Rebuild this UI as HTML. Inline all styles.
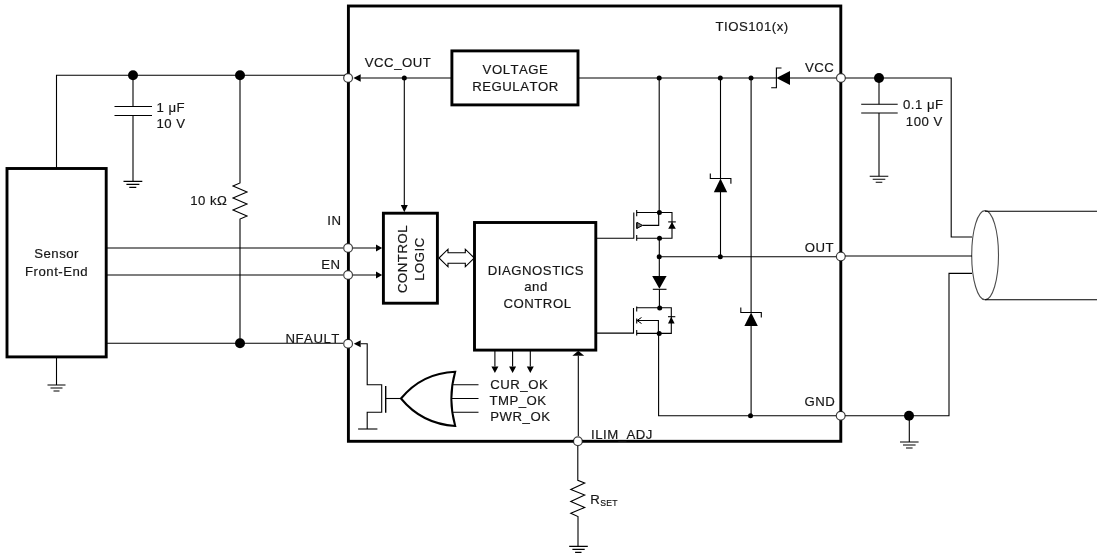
<!DOCTYPE html>
<html><head><meta charset="utf-8">
<style>
html,body{margin:0;padding:0;background:#fff;width:1100px;height:559px;overflow:hidden}
svg{display:block;will-change:transform}
text{font-family:"Liberation Sans",sans-serif;fill:#161616;stroke:#161616;stroke-width:0.18px;font-size:13.2px;letter-spacing:0.5px;font-kerning:none;text-rendering:optimizeSpeed}
.w{fill:none;stroke:#000;stroke-width:1.1;stroke-opacity:1}
.k{fill:none;stroke:#000;stroke-width:2.9}
.g{fill:none;stroke:#000;stroke-width:1.1}
.f{fill:#000;stroke:none}
.pin{fill:#fff;stroke:#000;stroke-width:1.2;stroke-opacity:0.75}
</style></head><body>
<svg width="1100" height="559" viewBox="0 0 1100 559">
<!-- ===== LEFT EXTERNAL ===== -->
<path class="w" d="M56.5 168.5V75.3H348"/>
<path class="w" d="M133 75.3V106.5M133 115.5V181.4"/>
<path class="g" d="M114.5 106.5H152M114.5 115.5H152"/>
<path class="g" d="M123.5 181.4H142.3M126.4 184.4H139.4M129.3 187.4H136.3"/>
<path class="w" d="M240 75.3V183L233 186L247 192L233 198L247 204L233 210L247 216L240 219V343.3"/>
<path class="w" d="M106 248H343M106 275H343M106 343.3H343"/>
<path class="w" d="M56.5 356.5V385"/>
<path class="g" d="M47.5 385H65.5M50.5 388H62.5M53.5 391H59.5"/>
<circle class="f" cx="133" cy="75.3" r="5"/>
<circle class="f" cx="240" cy="75.3" r="5"/>
<circle class="f" cx="240" cy="343.3" r="5"/>
<rect class="k" x="7" y="168.5" width="99.2" height="188.4"/>
<text x="56.6" y="258.1" text-anchor="middle">Sensor</text>
<text x="56.6" y="275.6" text-anchor="middle" letter-spacing="0.25">Front-End</text>
<text x="156.5" y="111.5" letter-spacing="0.1">1 μF</text>
<text x="156.5" y="128.2" letter-spacing="0.1">10 V</text>
<text x="190.2" y="205.4">10 kΩ</text>
<text x="341.5" y="225" text-anchor="end">IN</text>
<text x="340.6" y="269.2" text-anchor="end">EN</text>
<text x="339.8" y="342.9" text-anchor="end">NFAULT</text>

<!-- ===== MAIN BOX ===== -->
<rect class="k" x="348.4" y="6" width="492.4" height="435.3"/>
<text x="715.5" y="31.2">TIOS101(x)</text>

<!-- VCC_OUT -->
<path class="w" d="M360.7 78H451"/>
<path class="f" d="M353.4 78L360.7 74.2V81.8Z"/>
<circle class="f" cx="404.3" cy="78" r="2.5"/>
<path class="w" d="M404.3 78V205"/>
<path class="f" d="M404.3 212.2L400.8 205H407.8Z"/>
<text x="364.8" y="67.2">VCC_OUT</text>
<rect class="k" x="451.9" y="50.9" width="126.1" height="54"/>
<text x="515.5" y="73.6" text-anchor="middle">VOLTAGE</text>
<text x="515.5" y="90.8" text-anchor="middle">REGULATOR</text>

<!-- IN / EN -->
<path class="w" d="M353 248H376.5M353 275H376.5"/>
<path class="f" d="M382.2 248L376 244.5V251.5ZM382.2 275L376 271.5V278.5Z"/>
<rect class="k" x="383.4" y="213.2" width="54" height="90"/>
<text transform="translate(407.2 259) rotate(-90)" text-anchor="middle">CONTROL</text>
<text transform="translate(424 259) rotate(-90)" text-anchor="middle">LOGIC</text>
<!-- double arrow -->
<path fill="#fff" stroke="#000" stroke-width="1.1" d="M439 258L448 249.2V252.8H465.3V249.2L474.3 258L465.3 266.8V263.2H448V266.8Z"/>

<!-- DIAG box -->
<rect class="k" x="474.5" y="222.5" width="121.3" height="127.6"/>
<text x="536" y="274.8" text-anchor="middle">DIAGNOSTICS</text>
<text x="536" y="291.1" text-anchor="middle">and</text>
<text x="537.5" y="308" text-anchor="middle">CONTROL</text>
<!-- down arrows -->
<path class="w" d="M494.9 350.8V366.6M512.6 350.8V366.6M530.3 350.8V366.6"/>
<path class="f" d="M494.9 373.1L491.4 366.6H498.4ZM512.6 373.1L509.1 366.6H516.1ZM530.3 373.1L526.8 366.6H533.8Z"/>
<text x="490.3" y="388.6">CUR_OK</text>
<text x="489.4" y="404.5">TMP_OK</text>
<text x="490.3" y="420.7">PWR_OK</text>
<!-- ILIM up arrow -->
<path class="w" d="M578.3 436V355.7"/>
<path class="f" d="M578.3 350.8L572.4 355.7H584.2Z"/>

<!-- NFAULT internal -->
<path class="f" d="M353.8 343.8L360.7 340.3V347.3Z"/>
<path class="w" d="M360.7 343.8H367.2V384.7H381.7V412.3H367.2V429"/>
<path class="g" d="M358.1 429H377.4"/>
<path class="g" style="stroke-width:1.4" d="M385.7 386.1V412.7"/>
<path class="w" d="M385.7 398.5H401"/>
<!-- OR gate -->
<path fill="none" stroke="#000" stroke-width="2" d="M401 398.5Q422 373 455.2 371.7Q447.5 398.5 455.2 425.9Q422 424 401 398.5Z"/>
<path class="w" d="M452 384.7H478.5M451 398.5H478.5M452 412.3H478.5"/>

<!-- ===== RIGHT INTERNAL ===== -->
<path class="w" d="M579 78H776.4M790 78H836"/>
<circle class="f" cx="659.2" cy="78" r="2.5"/>
<circle class="f" cx="720.3" cy="78" r="2.5"/>
<circle class="f" cx="751" cy="78" r="2.5"/>
<!-- VCC reverse diode -->
<path class="f" d="M776.4 78L790 71.1V84.9Z"/>
<path class="g" d="M781.5 68H776.4V87.7H771.2"/>
<text x="805" y="71.6">VCC</text>
<!-- upper mosfet -->
<path class="w" d="M659.2 78V212.5"/>
<path class="w" d="M597 238.2H633.8V212.5"/>
<path class="g" d="M636.7 210V216.3M636.7 222.5V228.8M636.7 235V240.7"/>
<path class="w" d="M636.7 212.5H672V238.2H636.7M642.6 225.4H658.7V212.5"/>
<path fill="#777" stroke="#000" stroke-width="1" d="M637 222.4L642.6 225.4L637 228.4Z"/>
<path class="f" d="M672 221.9L668.2 228.8H675.8Z"/>
<path class="g" d="M668.2 221.9H675.8"/>
<circle class="f" cx="659.4" cy="212.5" r="2.5"/>
<circle class="f" cx="659.5" cy="238.2" r="2.5"/>
<!-- mid diode -->
<path class="w" d="M659.3 238.2V275.9M659.4 289.3V308"/>
<path class="f" d="M659.4 288.8L652.2 275.9H666.6Z"/>
<path class="g" d="M652.8 289.3H666.5"/>
<circle class="f" cx="659.2" cy="256.7" r="2.5"/>
<!-- lower mosfet -->
<path class="w" d="M597 333.1H633.5V308.1"/>
<path class="g" d="M636.7 306.5V311.4M636.7 318.6V323.4M636.7 329.9V335.5"/>
<path class="w" d="M636.7 307.8H671.3V333.4H636.7M636.7 320.5H658.4V333.4"/>
<path fill="none" stroke="#000" stroke-width="1" d="M641.5 317.5L637 320.5L641.5 323.5"/>
<path class="f" d="M671.3 316.7L668 323.4H674.6Z"/>
<path class="g" d="M668 316.7H675.3"/>
<circle class="f" cx="659.7" cy="308.1" r="2.5"/>
<circle class="f" cx="659.2" cy="333.4" r="2.5"/>
<path class="w" d="M658.6 333.4V415.8H836"/>
<circle class="f" cx="750.5" cy="415.8" r="2.5"/>
<!-- OUT -->
<path class="w" d="M659.2 256.7H836"/>
<circle class="f" cx="720.3" cy="256.8" r="2.5"/>
<text x="804.7" y="251.5">OUT</text>
<!-- zener 1 -->
<path class="w" d="M720.5 78V178.5M720.5 192V256.8"/>
<path class="f" d="M720.5 178.5L713.8 192.3H727.2Z"/>
<path class="g" d="M710.3 173.4V178.5H730.9V183.7"/>
<!-- zener 2 -->
<path class="w" d="M751.1 78V312.5M751.1 326V415.8"/>
<path class="f" d="M751.1 312.5L744.4 326H757.8Z"/>
<path class="g" d="M740.8 307.6V312.5H761.3V317.4"/>
<text x="804.4" y="405.6">GND</text>

<!-- ILIM pin / RSET -->
<text x="591" y="439.1">ILIM_ADJ</text>
<path class="w" d="M577.8 446V480.3L584.7 483L570.8 489.4L584.7 495.1L570.8 501.5L584.7 507.4L570.8 513.3L578 516.5V546.4"/>
<path class="g" d="M569.2 546.4H587.8M572.4 549.4H584.7M575.1 552.4H581.5"/>
<text x="590.2" y="504.2">R<tspan font-size="8.6" dy="1.4" letter-spacing="0.3">SET</tspan></text>

<!-- ===== RIGHT EXTERNAL ===== -->
<path class="w" d="M845 78H951.2V237H972M845 256H972M845 415.8H949V273.4H972"/>
<circle class="f" cx="879" cy="78" r="5"/>
<path class="w" d="M879 78V104.2M879 113V176.3"/>
<path class="g" d="M861.2 104.2H897.7M861.2 113H897.7"/>
<path class="g" d="M869.7 176.3H888.3M872.7 179.3H885.3M875.7 182.3H882.3"/>
<text x="903" y="108.8" letter-spacing="0.15">0.1 μF</text>
<text x="905.8" y="125.8" letter-spacing="0.1">100 V</text>
<circle class="f" cx="909" cy="415.8" r="5"/>
<path class="w" d="M909.3 415.8V442"/>
<path class="g" d="M900 442H918.6M903 445H915.6M906 448H912.6"/>
<ellipse fill="none" stroke="#000" stroke-width="1.1" stroke-opacity="0.7" cx="985.1" cy="255.2" rx="13.4" ry="44.6"/>
<path class="w" d="M985 211.2H1097M985 299.8H1097"/>

<!-- pins -->
<circle class="pin" cx="348.1" cy="78" r="4.4"/>
<circle class="pin" cx="348.1" cy="248" r="4.4"/>
<circle class="pin" cx="348.1" cy="275" r="4.4"/>
<circle class="pin" cx="348.1" cy="343.8" r="4.4"/>
<circle class="pin" cx="840.9" cy="78" r="4.4"/>
<circle class="pin" cx="840.8" cy="256.5" r="4.4"/>
<circle class="pin" cx="840.7" cy="415.8" r="4.4"/>
<circle class="pin" cx="577.9" cy="441.2" r="4.4"/>
</svg>
</body></html>
